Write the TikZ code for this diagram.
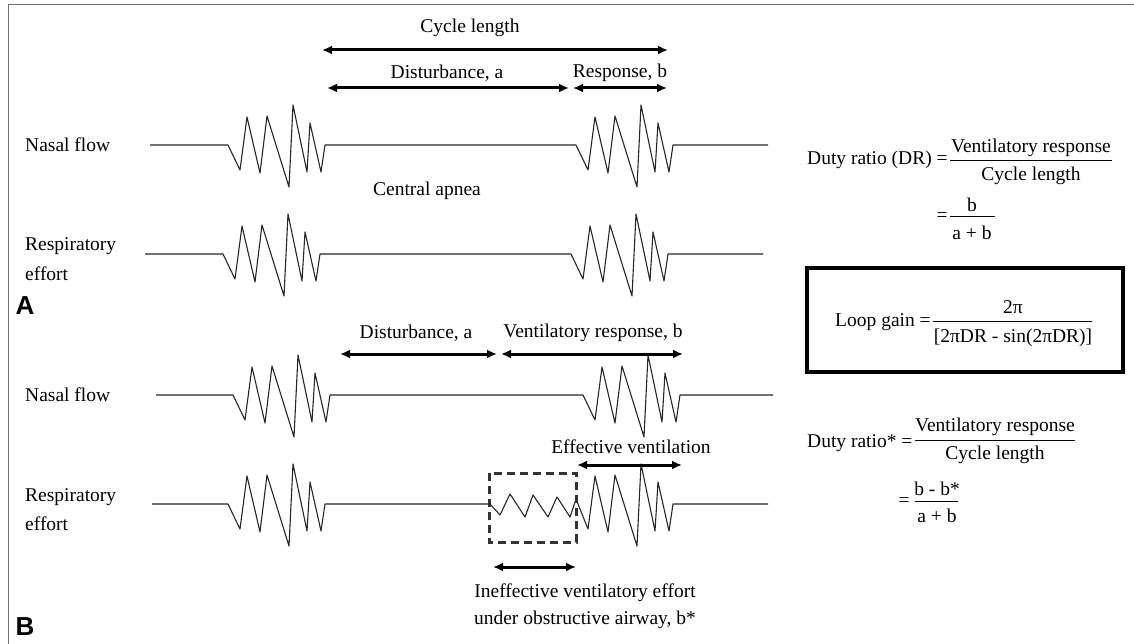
\documentclass[tikz,border=0pt]{standalone}
\usepackage{fontspec}
\setmainfont{Liberation Serif}
\newfontfamily\labfont{Liberation Sans}
\usetikzlibrary{arrows.meta}
\newcommand\wburst[2]{-- ({#1+12},{#2+25}) -- ({#1+19},{#2-28}) -- ({#1+32},{#2+28}) -- ({#1+39},{#2-29}) -- ({#1+61},{#2+42}) -- ({#1+65},{#2-40}) -- ({#1+79},{#2+27}) -- ({#1+82},{#2-22}) -- ({#1+93},{#2+27}) -- ({#1+97},{#2})}
\begin{document}
\begin{tikzpicture}[x=1pt,y=-1pt,
  trace/.style={line width=1.1pt, black!85, line join=round},
  dim/.style={line width=3pt, {Latex[length=10pt,width=9pt]}-{Latex[length=10pt,width=9pt]}},
  lbl/.style={font=\fontsize{19.5}{23}\selectfont, inner sep=0pt},
  panel/.style={font=\labfont\bfseries\fontsize{26}{28}\selectfont, inner sep=0pt},
  bar/.style={line width=1pt}]
\useasboundingbox (0,0) rectangle (1134,644);
% frame
\draw[black!55, line width=0.8pt] (8,644) -- (8,4) -- (1134,4);

% ---------- traces ----------
\draw[trace] (150,145) -- (228,145) \wburst{228}{145} -- (576,145) \wburst{576}{145} -- (768,145);
\draw[trace] (145,254) -- (223,254) \wburst{223}{254} -- (571,254) \wburst{571}{254} -- (763,254);
\draw[trace] (156,395) -- (233,395) \wburst{233}{395} -- (583,395) \wburst{583}{395} -- (773,395);
\draw[trace] (152,504) -- (228,504) \wburst{228}{504} -- (490,504) -- (500,515) -- (510,494) -- (525,517) -- (533,495) -- (548,517) -- (557,497) -- (570,517) -- (576,499) \wburst{576}{504} -- (768,504);

% dashed box
\draw[line width=3pt, black!80, dash pattern=on 8pt off 5pt] (489,473) rectangle (576,542);

% ---------- panel A labels ----------
\node[lbl] (cyc) at (470,28) {Cycle length};
\coordinate (c1) at (322,50); \coordinate (c2) at (668,50);
\draw[dim] (c1) -- (c2);
\node[lbl] (distA) at (447,73) {Disturbance, a};
\node[lbl] (respA) at (620,73) {Response, b};
\coordinate (d1) at (327,88); \coordinate (d2) at (569,88);
\coordinate (r1) at (573,88); \coordinate (r2) at (667,88);
\draw[dim] (d1) -- (d2);
\draw[dim] (r1) -- (r2);
\node[lbl, anchor=west] (nfA) at (25,145) {Nasal flow};
\node[lbl] (capn) at (427,191) {Central apnea};
\node[lbl, anchor=west] (reA1) at (25,246) {Respiratory};
\node[lbl, anchor=west] (reA2) at (25,274) {effort};
\node[panel] (pA) at (25,306) {A};

% ---------- panel B labels ----------
\node[lbl] (distB) at (416,333) {Disturbance, a};
\node[lbl] (respB) at (593,333) {Ventilatory response, b};
\coordinate (e1) at (340,354); \coordinate (e2) at (497,354);
\coordinate (f1) at (501,354); \coordinate (f2) at (683,354);
\draw[dim] (e1) -- (e2);
\draw[dim] (f1) -- (f2);
\node[lbl, anchor=west] (nfB) at (25,395) {Nasal flow};
\node[lbl] (effv) at (631,447) {Effective ventilation};
\coordinate (g1) at (577,465); \coordinate (g2) at (682,465);
\draw[dim] (g1) -- (g2);
\node[lbl, anchor=west] (reB1) at (25,497) {Respiratory};
\node[lbl, anchor=west] (reB2) at (25,524) {effort};
\coordinate (h1) at (493,567); \coordinate (h2) at (576,567);
\draw[dim] (h1) -- (h2);
\node[lbl] (ineff1) at (585,593) {Ineffective ventilatory effort};
\node[lbl] (ineff2) at (585,620) {under obstructive airway, b*};
\node[panel] (pB) at (25,627) {B};

% ---------- equations ----------
\node[lbl, anchor=west] (dr) at (807,160) {Duty ratio (DR) =};
\draw[bar] (950,161) -- (1112,161);
\node[lbl] (dr1n) at (1031,148) {Ventilatory response};
\node[lbl] (dr1d) at (1031,176) {Cycle length};
\node[lbl] (dreq) at (942,217) {=};
\draw[bar] (950,217) -- (995,217);
\node[lbl] (dr2n) at (972,205) {b};
\node[lbl] (dr2d) at (972,233) {a + b};

\draw[line width=3.5pt] (807,268) rectangle (1123,372);
\node[lbl, anchor=west] (lg) at (835,322) {Loop gain =};
\draw[bar] (933,321) -- (1092,321);
\node[lbl] (lgn) at (1013,307) {2π};
\node[lbl] (lgd) at (1013,338) {[2πDR - sin(2πDR)]};

\node[lbl, anchor=west] (drs) at (807,443) {Duty ratio* =};
\draw[bar] (915,440) -- (1075,440);
\node[lbl] (drsn) at (995,427) {Ventilatory response};
\node[lbl] (drsd) at (995,455) {Cycle length};
\node[lbl] (drseq) at (904,502) {=};
\draw[bar] (915,501) -- (958,501);
\node[lbl] (drs2n) at (937,489) {b - b*};
\node[lbl] (drs2d) at (937,516) {a + b};
\end{tikzpicture}
\end{document}
